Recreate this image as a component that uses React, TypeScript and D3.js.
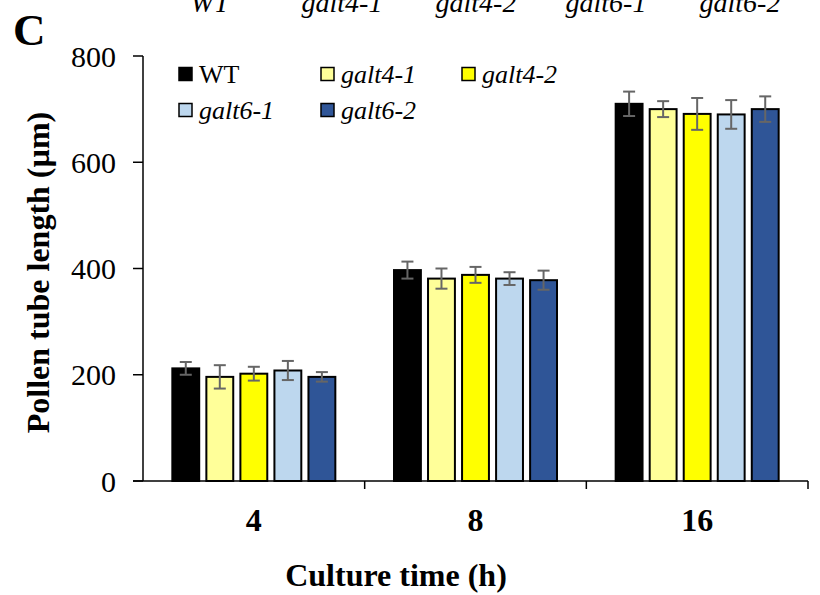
import React from "react";
import * as d3 from "d3";

const W = 820;
const H = 595;

const times = ["4", "8", "16"];
const genotypes = ["WT", "galt4-1", "galt4-2", "galt6-1", "galt6-2"];
const colors = ["#000000", "#FFFF99", "#FFFF00", "#BDD7EE", "#2F5597"];

// mean pollen tube length (µm) per genotype, one array per culture time
const means4 = [212, 196, 202, 208, 196];
const means8 = [397, 381, 388, 381, 378];
const means16 = [710, 700, 691, 690, 700];
const errs4 = [12, 22, 13, 18, 9];
const errs8 = [16, 19, 15, 12, 18];
const errs16 = [23, 15, 30, 27, 24];

const meansByTime = [means4, means8, means16];
const errsByTime = [errs4, errs8, errs16];

const yTicks = [0, 200, 400, 600, 800];

const FONT = "'Liberation Serif', 'Times New Roman', serif";

export default function App() {
  const x = d3.scaleBand<string>().domain(times).range([143, 808]).padding(0);
  const y = d3.scaleLinear().domain([0, 800]).range([481, 56]);

  const inner = (t: string) => {
    const c = (x(t) as number) + x.bandwidth() / 2;
    return d3
      .scaleBand<string>()
      .domain(genotypes)
      .range([c - 81.5, c + 81.5])
      .paddingInner(0.21)
      .paddingOuter(0);
  };

  const topLabelX = [210, 342, 476, 606, 740];
  const legendPos = [
    [179, 74],
    [321, 74],
    [462, 74],
    [179, 110],
    [321, 110],
  ];

  return (
    <svg
      width={W}
      height={H}
      style={{ position: "absolute", left: 0, top: 0, background: "#fff" }}
      fontFamily={FONT}
    >
      <rect x={0} y={0} width={W} height={H} fill="#fff" />

      {/* genotype names from the panel above, running off the top edge */}
      {genotypes.map((g, i) => (
        <text
          key={"top" + g}
          x={topLabelX[i]}
          y={12}
          textAnchor="middle"
          fontSize={28}
          fontStyle="italic"
        >
          {g}
        </text>
      ))}

      {/* panel letter */}
      <text x={13} y={45} fontSize={45} fontWeight="bold">
        C
      </text>

      {/* bars */}
      {times.map((t, ti) => {
        const xi = inner(t);
        return (
          <g key={"grp" + t}>
            {genotypes.map((g, gi) => {
              const v = meansByTime[ti][gi];
              const bx = xi(g) as number;
              const bw = xi.bandwidth();
              return (
                <rect
                  key={g}
                  x={bx}
                  y={y(v)}
                  width={bw}
                  height={y(0) - y(v)}
                  fill={colors[gi]}
                  stroke="#000"
                  strokeWidth={2}
                />
              );
            })}
            {genotypes.map((g, gi) => {
              const v = meansByTime[ti][gi];
              const e = errsByTime[ti][gi];
              const cx = (xi(g) as number) + xi.bandwidth() / 2;
              return (
                <g key={"err" + g} stroke="#666" strokeWidth={2}>
                  <line x1={cx} x2={cx} y1={y(v + e)} y2={y(v - e)} />
                  <line x1={cx - 6} x2={cx + 6} y1={y(v + e)} y2={y(v + e)} />
                  <line x1={cx - 6} x2={cx + 6} y1={y(v - e)} y2={y(v - e)} />
                </g>
              );
            })}
          </g>
        );
      })}

      {/* y axis */}
      <line x1={143} x2={143} y1={y(800)} y2={y(0)} stroke="#000" strokeWidth={1.5} />
      {yTicks.map((t) => (
        <g key={"yt" + t}>
          <line x1={133} x2={143} y1={y(t)} y2={y(t)} stroke="#000" strokeWidth={1.5} />
          <text
            x={116}
            y={y(t)}
            dy="0.35em"
            textAnchor="end"
            fontSize={30}
          >
            {t}
          </text>
        </g>
      ))}

      {/* x axis */}
      <line x1={133} x2={808} y1={y(0)} y2={y(0)} stroke="#000" strokeWidth={1.5} />
      {times.map((t) => (
        <line
          key={"xt" + t}
          x1={(x(t) as number) + x.bandwidth()}
          x2={(x(t) as number) + x.bandwidth()}
          y1={y(0)}
          y2={y(0) + 8}
          stroke="#000"
          strokeWidth={1.5}
        />
      ))}
      {times.map((t) => (
        <text
          key={"xl" + t}
          x={(x(t) as number) + x.bandwidth() / 2}
          y={531}
          textAnchor="middle"
          fontSize={32}
          fontWeight="bold"
        >
          {t}
        </text>
      ))}

      {/* axis titles */}
      <text x={396} y={586} textAnchor="middle" fontSize={32} fontWeight="bold">
        Culture time (h)
      </text>
      <text
        transform={`translate(49, ${(y(0) + y(800)) / 2 + 4}) rotate(-90)`}
        textAnchor="middle"
        fontSize={32}
        fontWeight="bold"
      >
        Pollen tube length (µm)
      </text>

      {/* legend */}
      {genotypes.map((g, i) => (
        <g key={"lg" + g} transform={`translate(${legendPos[i][0]}, ${legendPos[i][1]})`}>
          <rect x={0} y={-6.5} width={13} height={13} fill={colors[i]} stroke="#000" strokeWidth={1.5} />
          <text
            x={20}
            y={0}
            dy="0.33em"
            fontSize={26}
            fontStyle={g === "WT" ? "normal" : "italic"}
          >
            {g}
          </text>
        </g>
      ))}
    </svg>
  );
}
